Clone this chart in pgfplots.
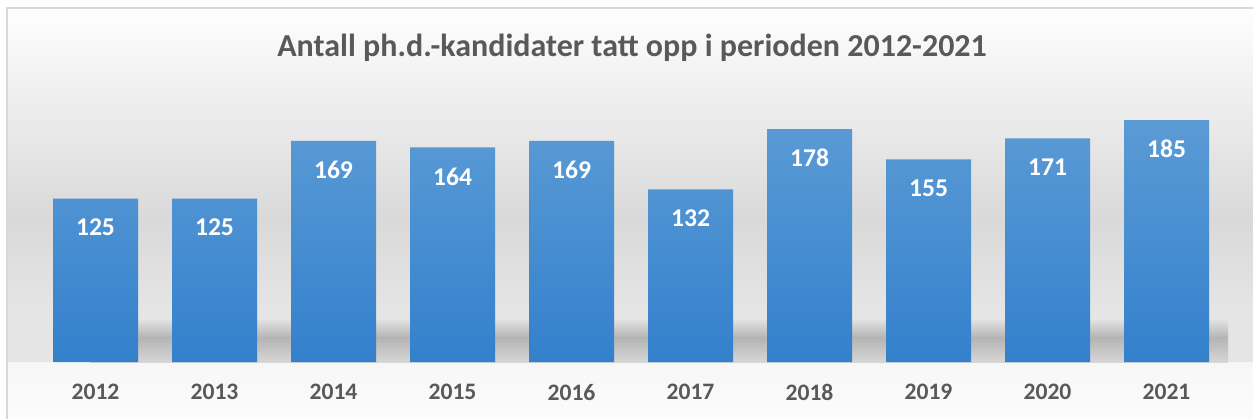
\documentclass[border=0pt]{standalone}
\usepackage{pgfplots}
\pgfplotsset{compat=1.18}
\usepackage{fontspec}
\setmainfont{Carlito}
\definecolor{txt}{HTML}{595959}
\definecolor{bartop}{HTML}{5B9BD5}
\definecolor{barbot}{HTML}{3380CC}
\definecolor{frame}{HTML}{D9D9D9}
\definecolor{bgA}{HTML}{FEFEFE}
\definecolor{bgB}{HTML}{E7E7E7}
\definecolor{bgC}{HTML}{D9D9D9}
\definecolor{bgD}{HTML}{E5E5E5}
\definecolor{bgE}{HTML}{F7F7F7}
\definecolor{bgF}{HTML}{FBFBFB}
\definecolor{shad}{HTML}{B4B4B4}
\begin{document}
\begin{tikzpicture}
\useasboundingbox (0,0) rectangle (626.5pt,209pt);
\fill[white] (0,0) rectangle (626.5pt,209pt);
% y px -> pt : (418-y)/2
\shade[top color=bgA, bottom color=bgB] (3.5pt,139pt) rectangle (626.5pt,205pt);   % 8..140
\shade[top color=bgB, bottom color=bgC] (3.5pt,99pt) rectangle (626.5pt,139.2pt);  % 140..220
\shade[top color=bgC, bottom color=bgD] (3.5pt,54pt) rectangle (626.5pt,99.2pt);   % 220..310
\fill[bgD] (3.5pt,28pt) rectangle (626.5pt,54.2pt);                                % 310..362
\shade[top color=bgE, bottom color=bgF] (3.5pt,0pt) rectangle (626.5pt,28pt);     % 362..418
\shade[top color=bgD, bottom color=shad] (45pt,40pt) rectangle (614pt,50pt);
\shade[top color=shad, bottom color=bgD!70!shad] (45pt,28pt) rectangle (614pt,40.2pt);
\draw[frame, line width=1pt] (3.5pt,-5pt) -- (3.5pt,205pt) -- (640pt,205pt);
\node[font=\bfseries\fontsize{16}{19}\selectfont, text=txt] at (316pt,185pt) {Antall ph.d.-kandidater tatt opp i perioden 2012-2021};
\begin{axis}[
  at={(18pt,28pt)}, anchor=south west,
  scale only axis, width=595pt, height=130.8pt,
  xmin=-0.5, xmax=9.5, ymin=0, ymax=200,
  axis line style={draw=none}, major tick length=0pt,
  ytick=\empty, xtick=data,
  xticklabels={2012,2013,2014,2015,2016,2017,2018,2019,2020,2021},
  xticklabel style={font=\bfseries\fontsize{11.8}{14}\selectfont, text=txt, anchor=north, yshift=-7.5pt},
  ybar, bar width=42.5pt, bar shift=0pt,
  clip=false,
  nodes near coords,
  nodes near coords style={font=\bfseries\fontsize{12.8}{15}\selectfont, text=white, anchor=center, yshift=-14.5pt},
  /pgf/number format/assume math mode=true,
]
\addplot[draw=none, top color=bartop, bottom color=barbot] coordinates {
(0,125) (1,125) (2,169) (3,164) (4,169) (5,132) (6,178) (7,155) (8,171) (9,185)};
\end{axis}
\end{tikzpicture}
\end{document}
